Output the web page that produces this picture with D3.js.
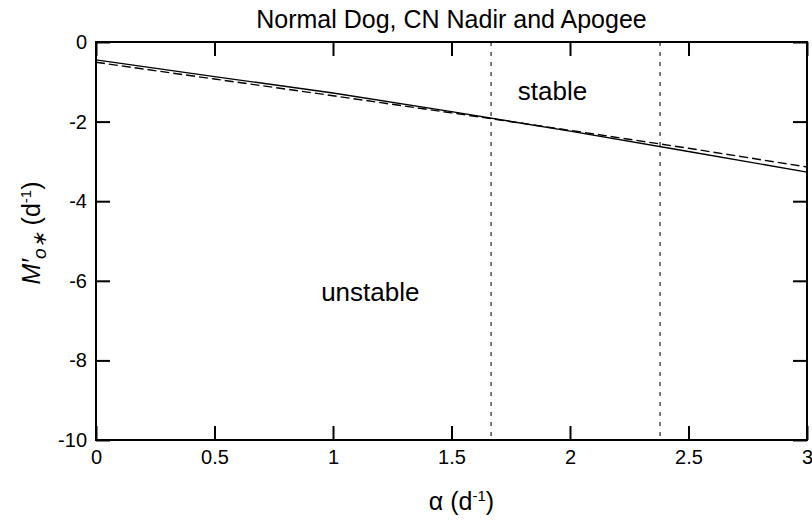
<!DOCTYPE html>
<html>
<head>
<meta charset="utf-8">
<script src="https://cdn.jsdelivr.net/npm/d3@7"></script>
<style>
  body { margin: 0; background: #fff; }
  svg text { font-family: "Liberation Sans", Arial, Helvetica, sans-serif; fill: #000; }
</style>
</head>
<body>
<div id="chart"></div>
<script>
// data
let alpha = [0, 0.5, 1, 1.5, 2, 2.5, 3];
let nadir = [-0.45, -0.87, -1.28, -1.75, -2.24, -2.75, -3.27];
let apogee = [-0.51, -0.93, -1.35, -1.78, -2.22, -2.67, -3.14];
let limits = [1.667, 2.38];
let xTicks = [0, 0.5, 1, 1.5, 2, 2.5, 3];
let yTicks = [0, -2, -4, -6, -8, -10];
let regions = [
    { label: "stable", a: 1.78, m: -1.45 },
    { label: "unstable", a: 0.95, m: -6.5 }
];

let W = 812, H = 523;
let margin = { top: 42, right: 5, bottom: 83, left: 96 },
    width = W - margin.left - margin.right,
    height = H - margin.top - margin.bottom;

let svg = d3.select("#chart")
    .append("svg")
    .attr("width", W)
    .attr("height", H);

let g = svg.append("g")
    .attr("transform", "translate(" + margin.left + "," + margin.top + ")");

let x = d3.scaleLinear().domain([0, 3]).range([0, width]);
let y = d3.scaleLinear().domain([-10, 0]).range([height, 0]);

// plain hyphen for negatives, like the original
let fmt = function (d) { return String(d); };

// axes, ticks pointing inward
g.append("g")
    .attr("transform", "translate(0," + height + ")")
    .call(d3.axisBottom(x).tickValues(xTicks).tickFormat(fmt).tickSizeInner(-14).tickSizeOuter(0).tickPadding(10))
    .call(s => s.select(".domain").remove());

g.append("g")
    .call(d3.axisTop(x).tickValues(xTicks).tickFormat("").tickSizeInner(-14).tickSizeOuter(0))
    .call(s => s.select(".domain").remove());

g.append("g")
    .call(d3.axisLeft(y).tickValues(yTicks).tickFormat(fmt).tickSizeInner(-14).tickSizeOuter(0).tickPadding(9))
    .call(s => s.select(".domain").remove());

g.append("g")
    .attr("transform", "translate(" + width + ",0)")
    .call(d3.axisRight(y).tickValues(yTicks).tickFormat("").tickSizeInner(-14).tickSizeOuter(0))
    .call(s => s.select(".domain").remove());

g.selectAll(".tick line").attr("stroke", "#000").attr("stroke-width", 2);
g.selectAll(".tick text").style("font-size", "20px").attr("fill", "#000");

// stability limits
g.selectAll(".limit")
    .data(limits)
    .enter()
    .append("line")
    .attr("class", "limit")
    .attr("x1", d => x(d))
    .attr("x2", d => x(d))
    .attr("y1", y(0))
    .attr("y2", y(-10))
    .attr("stroke", "#222")
    .attr("stroke-width", 1.2)
    .attr("stroke-dasharray", "4,6");

// curves
let line = d3.line()
    .x((d, i) => x(alpha[i]))
    .y(d => y(d));

g.append("path")
    .datum(apogee)
    .attr("d", line)
    .attr("fill", "none")
    .attr("stroke", "#000")
    .attr("stroke-width", 1.4)
    .attr("stroke-dasharray", "9,4");

g.append("path")
    .datum(nadir)
    .attr("d", line)
    .attr("fill", "none")
    .attr("stroke", "#000")
    .attr("stroke-width", 1.4);

// frame
g.append("rect")
    .attr("width", width)
    .attr("height", height)
    .attr("fill", "none")
    .attr("stroke", "#000")
    .attr("stroke-width", 2);

// region labels
g.selectAll(".region")
    .data(regions)
    .enter()
    .append("text")
    .attr("x", d => x(d.a))
    .attr("y", d => y(d.m))
    .style("font-size", "26px")
    .text(d => d.label);

// title
svg.append("text")
    .attr("x", margin.left + width / 2)
    .attr("y", 28)
    .attr("text-anchor", "middle")
    .style("font-size", "25px")
    .text("Normal Dog, CN Nadir and Apogee");

// x label
let xl = svg.append("text")
    .attr("x", margin.left + width / 2 + 10)
    .attr("y", 510)
    .attr("text-anchor", "middle")
    .style("font-size", "25px");
xl.append("tspan").text("\u03b1 (d");
xl.append("tspan").attr("dy", -9).style("font-size", "15px").text("-1");
xl.append("tspan").attr("dy", 9).text(")");

// y label
let yl = svg.append("text")
    .attr("transform", "translate(40," + (margin.top + height / 2 - 8) + ")rotate(-90)")
    .attr("text-anchor", "middle")
    .style("font-size", "25px");
yl.append("tspan").style("font-style", "italic").text("M\u2032");
yl.append("tspan").attr("dy", 6).style("font-style", "italic").style("font-size", "19px").text("o\u2217");
yl.append("tspan").attr("dy", -6).text(" (d");
yl.append("tspan").attr("dy", -9).style("font-size", "15px").text("-1");
yl.append("tspan").attr("dy", 9).text(")");
</script>
</body>
</html>
